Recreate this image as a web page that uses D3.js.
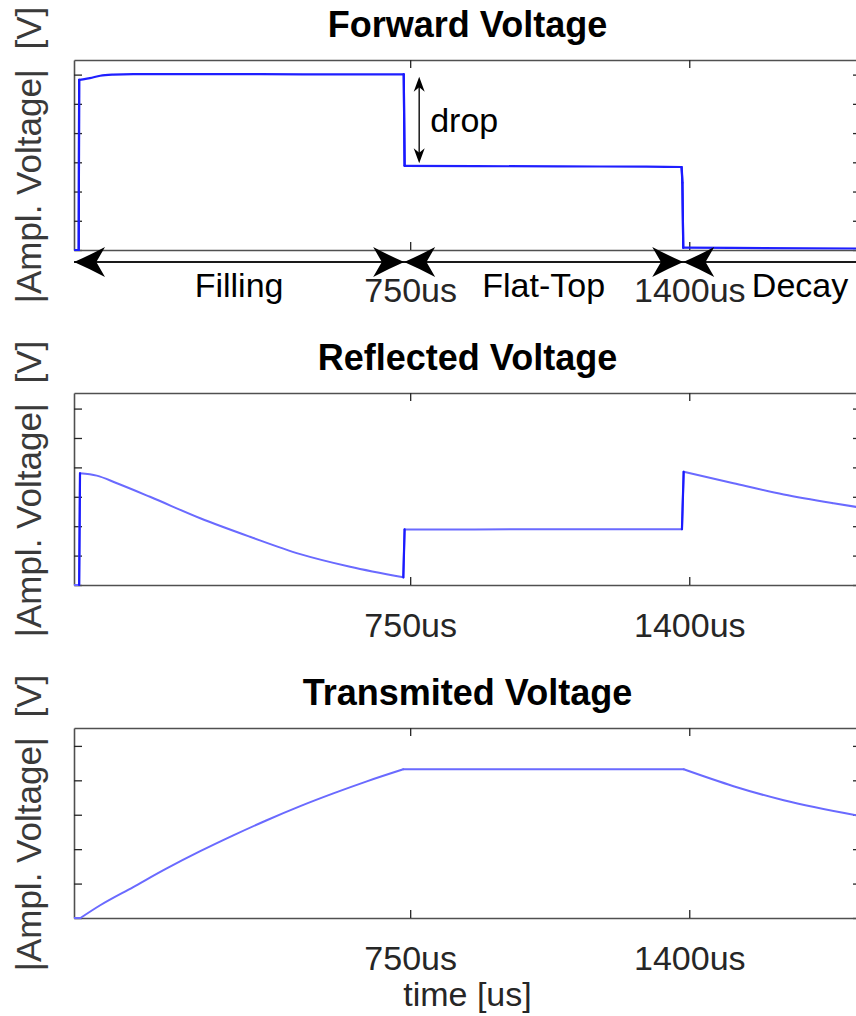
<!DOCTYPE html>
<html>
<head>
<meta charset="utf-8">
<script src="https://cdn.jsdelivr.net/npm/d3@7"></script>
<style>
  body { margin: 0; background: #fff; }
  svg { display: block; }
  text { font-family: "Liberation Sans", Arial, Helvetica, sans-serif; }
</style>
</head>
<body>
<svg id="chart" width="856" height="1016"></svg>
<script>
// ---- data -------------------------------------------------------------
const timeDomain = [-33, 1800];           // us
const timeTicks = [750, 1400];
const timeTickLabels = ["750us", "1400us"];

const forwardTime = [-33, -22, -21, -12, 4, 28, 58, 105, 300, 500, 735, 737, 900, 1100, 1300, 1382, 1384, 1386, 1500, 1800];
const forwardVolt = [0, 0, 5.82, 5.84, 5.88, 5.96, 6.00, 6.02, 6.02, 6.01, 6.01, 2.88, 2.87, 2.86, 2.85, 2.84, 2.30, 0.08, 0.07, 0.05];

const reflectedTime = [-33, -21, -19, 20, 67, 144, 261, 377, 494, 610, 734, 737, 900, 1100, 1300, 1383, 1387, 1503, 1620, 1736, 1800];
const reflectedVolt = [0, 0, 3.80, 3.72, 3.46, 3.00, 2.27, 1.64, 1.05, 0.62, 0.26, 1.89, 1.89, 1.90, 1.90, 1.90, 3.85, 3.46, 3.08, 2.78, 2.63];

const transmittedTime = [-33, -18, 28, 105, 183, 261, 338, 416, 494, 571, 649, 734, 900, 1100, 1300, 1387, 1503, 1620, 1800];
const transmittedVolt = [0, 0, 0.37, 0.90, 1.44, 1.94, 2.40, 2.84, 3.25, 3.62, 3.97, 4.32, 4.32, 4.32, 4.32, 4.32, 3.83, 3.42, 2.96];

const panelTitles = ["Forward Voltage", "Reflected Voltage", "Transmited Voltage"];
const voltMax = [6.5, 6.53, 5.52];
const voltTickCount = [6, 6, 5];

const phaseNames = ["Filling", "Flat-Top", "Decay"];
const phaseStart = [-33, 736, 1386];
const phaseEnd = [736, 1386, 1930];

const dropTime = 771;
const dropFrom = 5.93;
const dropTo = 2.97;

// ---- layout -----------------------------------------------------------
const plotLeft = 74, plotRight = 861;
const panelTop = [60, 393, 728];
const panelBottom = [250, 585, 918];
const series = [
  { t: forwardTime, v: forwardVolt, stroke: "#1f1fff", width: 2.2 },
  { t: reflectedTime, v: reflectedVolt, stroke: "#6a6aff", width: 2 },
  { t: transmittedTime, v: transmittedVolt, stroke: "#6a6aff", width: 2 }
];

const svg = d3.select("#chart");
const x = d3.scaleLinear().domain(timeDomain).range([plotLeft, plotRight]);

// filled arrowhead with slightly concave flanks and a notched back
function arrowHead(tipX, tipY, dir, len, half, notch) {
  const p = d3.path();
  p.moveTo(tipX, tipY);
  p.quadraticCurveTo(tipX + dir * len * 0.5, tipY - half * 0.45, tipX + dir * len, tipY - half);
  p.lineTo(tipX + dir * len * notch, tipY);
  p.lineTo(tipX + dir * len, tipY + half);
  p.quadraticCurveTo(tipX + dir * len * 0.5, tipY + half * 0.45, tipX, tipY);
  p.closePath();
  return p.toString();
}

// split a pixel polyline at sharp corners so each piece can be smoothed
function splitAtCorners(px, maxTurnDeg) {
  const pieces = [];
  let cur = [px[0]];
  for (let k = 1; k < px.length; k++) {
    cur.push(px[k]);
    if (k < px.length - 1) {
      const a1 = Math.atan2(px[k][1] - px[k - 1][1], px[k][0] - px[k - 1][0]);
      const a2 = Math.atan2(px[k + 1][1] - px[k][1], px[k + 1][0] - px[k][0]);
      let turn = Math.abs(a2 - a1) * 180 / Math.PI;
      if (turn > 180) turn = 360 - turn;
      if (turn > maxTurnDeg) { pieces.push(cur); cur = [px[k]]; }
    }
  }
  pieces.push(cur);
  return pieces;
}

panelTitles.forEach((title, i) => {
  const top = panelTop[i], bottom = panelBottom[i];
  const y = d3.scaleLinear().domain([0, voltMax[i]]).range([bottom, top]);
  const g = svg.append("g");

  g.append("clipPath").attr("id", "clip" + i)
    .append("rect").attr("x", plotLeft).attr("y", top - 2)
    .attr("width", plotRight - plotLeft).attr("height", bottom - top + 4);

  // title
  g.append("text")
    .attr("x", (plotLeft + plotRight) / 2).attr("y", top - 23)
    .attr("text-anchor", "middle")
    .attr("font-size", 36).attr("font-weight", "bold").attr("fill", "#000")
    .text(title);

  // y label
  g.append("text")
    .attr("transform", `translate(41,${(top + bottom) / 2}) rotate(-90)`)
    .attr("text-anchor", "middle")
    .attr("xml:space", "preserve").style("white-space", "pre")
    .attr("font-size", 35).attr("fill", "#3a3a3a")
    .text("|Ampl. Voltage|  [V]");

  // axes (ticks point inward on all four sides)
  const vTicks = d3.range(0, voltTickCount[i] + 1);
  const axes = [
    g.append("g").attr("transform", `translate(${plotLeft},0)`)
      .call(d3.axisLeft(y).tickValues(vTicks).tickSize(-8).tickSizeOuter(0).tickFormat("")),
    g.append("g").attr("transform", `translate(${plotRight},0)`)
      .call(d3.axisRight(y).tickValues(vTicks).tickSize(-8).tickSizeOuter(0).tickFormat("")),
    g.append("g").attr("transform", `translate(0,${top})`)
      .call(d3.axisTop(x).tickValues(timeTicks).tickSize(-8).tickSizeOuter(0).tickFormat("")),
    g.append("g").attr("transform", `translate(0,${bottom})`)
      .call(d3.axisBottom(x).tickValues(timeTicks).tickSize(-8).tickSizeOuter(0)
        .tickPadding(28).tickFormat((d, k) => timeTickLabels[k]))
  ];
  axes.forEach(a => {
    a.select(".domain").attr("stroke", "#505050").attr("stroke-width", 1.6);
    a.selectAll(".tick line").attr("stroke", "#262626").attr("stroke-width", 1.3);
    a.selectAll(".tick text").attr("font-size", 34).attr("fill", "#262626")
      .attr("font-family", "\"Liberation Sans\", Arial, sans-serif");
  });

  // signal: smooth between samples, sharp at steps and corners
  const s = series[i];
  const pts = s.t.map((t, k) => [t, s.v[k]]);
  const px = pts.map(d => [x(d[0]), y(d[1])]);
  const pieces = splitAtCorners(px, 15);
  const line = d3.line().curve(d3.curveMonotoneX);
  const plot = g.append("g").attr("clip-path", `url(#clip${i})`);
  plot.selectAll("path.sig").data(pieces).join("path")
    .attr("class", "sig")
    .attr("d", line).attr("fill", "none")
    .attr("stroke", s.stroke).attr("stroke-width", s.width)
    .attr("stroke-linejoin", "round").attr("stroke-linecap", "round");
  // steep steps are densely sampled, so they render darker
  const steps = d3.pairs(pts).filter(([a, b]) => b[0] - a[0] < 6 && Math.abs(b[1] - a[1]) > 0.3);
  plot.selectAll("line.step").data(steps).join("line")
    .attr("x1", d => x(d[0][0])).attr("y1", d => y(d[0][1]))
    .attr("x2", d => x(d[1][0])).attr("y2", d => y(d[1][1]))
    .attr("stroke", "#1a1aff").attr("stroke-width", 2.2).attr("stroke-linecap", "round");

  if (i === 0) {
    // pulse phases
    const ay = bottom + 12;
    g.append("line")
      .attr("x1", x(phaseStart[0])).attr("x2", x(phaseEnd[2]))
      .attr("y1", ay).attr("y2", ay)
      .attr("stroke", "#1a1a1a").attr("stroke-width", 2);
    phaseNames.forEach((name, k) => {
      g.append("path").attr("d", arrowHead(x(phaseStart[k]), ay, 1, 31, 15, 0.72)).attr("fill", "#000");
      g.append("path").attr("d", arrowHead(x(phaseEnd[k]), ay, -1, 31, 15, 0.72)).attr("fill", "#000");
      g.append("text")
        .attr("x", x((phaseStart[k] + phaseEnd[k]) / 2)).attr("y", bottom + 47)
        .attr("text-anchor", "middle").attr("font-size", 34).attr("fill", "#000")
        .text(name);
    });

    // drop between filling level and flat-top level
    const dx = x(dropTime);
    g.append("line")
      .attr("x1", dx).attr("x2", dx)
      .attr("y1", y(dropFrom) + 6).attr("y2", y(dropTo) - 6)
      .attr("stroke", "#1a1a1a").attr("stroke-width", 1.5);
    const vHead = (tipY, dir) => {
      const p = d3.path();
      p.moveTo(dx, tipY);
      p.lineTo(dx - 5.5, tipY + dir * 15);
      p.lineTo(dx, tipY + dir * 10.5);
      p.lineTo(dx + 5.5, tipY + dir * 15);
      p.closePath();
      return p.toString();
    };
    g.append("path").attr("d", vHead(y(dropFrom), 1)).attr("fill", "#000");
    g.append("path").attr("d", vHead(y(dropTo), -1)).attr("fill", "#000");
    g.append("text")
      .attr("x", dx + 11).attr("y", y((dropFrom + dropTo) / 2) + 12)
      .attr("font-size", 34).attr("fill", "#000")
      .text("drop");
  }

  if (i === 2) {
    g.append("text")
      .attr("x", (plotLeft + plotRight) / 2).attr("y", bottom + 88)
      .attr("text-anchor", "middle").attr("font-size", 34).attr("fill", "#262626")
      .text("time [us]");
  }
});
</script>
</body>
</html>
